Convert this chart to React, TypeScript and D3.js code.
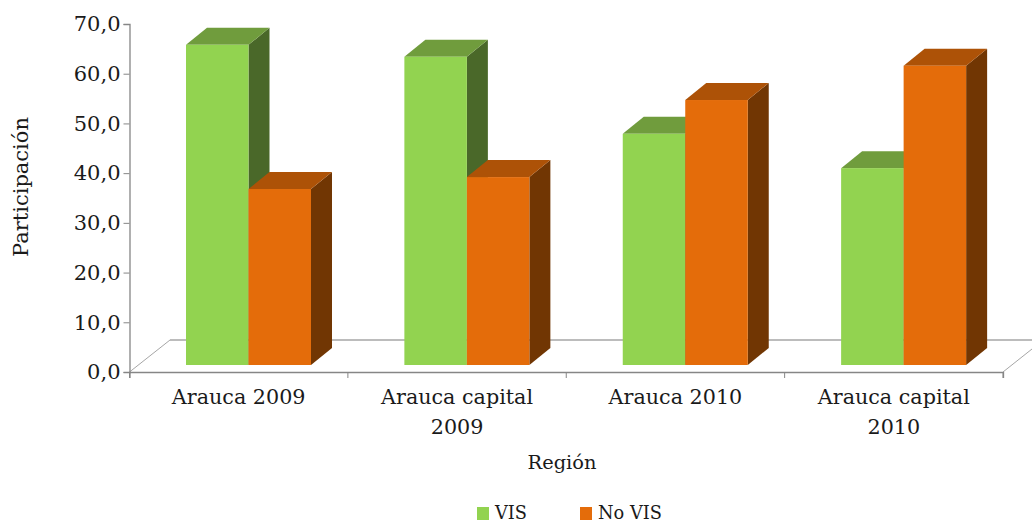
import React, { useEffect, useRef } from "react";
import * as d3 from "d3";

const categories = ["Arauca 2009", "Arauca capital 2009", "Arauca 2010", "Arauca capital 2010"];
const categoryLines = [["Arauca 2009"], ["Arauca capital", "2009"], ["Arauca 2010"], ["Arauca capital", "2010"]];
const seriesNames = ["VIS", "No VIS"];
const visValues = [64.4, 62.0, 46.5, 39.6];
const noVisValues = [35.4, 37.8, 53.3, 60.2];
const yTicks = [0, 10, 20, 30, 40, 50, 60, 70];

const colors = [
  { front: "#92d350", top: "#709c3d", side: "#4a6829" },
  { front: "#e46c0a", top: "#ad5207", side: "#713603" },
];

export default function App() {
  const svgRef = useRef<SVGSVGElement>(null);

  useEffect(() => {
    const w = 1032;
    const h = 520;
    const font = "'DejaVu Serif', serif";
    const axisColor = "#868686";
    const svg = d3.select(svgRef.current)
      .attr("width", w)
      .attr("height", h)
      .style("position", "absolute")
      .style("left", 0)
      .style("top", 0)
      .style("background", "#fff")
      .style("font-family", font);
    svg.selectAll("*").remove();

    // scales
    const left = 129.5;
    const right = 1003;
    const yBase = 372;
    const yTop = 24;
    const xScale = d3.scaleBand<string>().domain(categories).range([left, right]);
    const yScale = d3.scaleLinear().domain([0, 70]).range([yBase, yTop]);
    const barScale = d3.scaleBand<number>().domain([0, 1]).range([56.5, 181.5]);

    // depth of the 3d box and inset of the bars on the floor
    const dx = 21;
    const dy = -17;
    const barLift = yBase - 365;

    // floor
    svg.append("path")
      .attr("d", `M${left},${yBase}L170,340`)
      .attr("fill", "none")
      .attr("stroke", "#a6a6a6");
    svg.append("path")
      .attr("d", "M170,340H1032")
      .attr("fill", "none")
      .attr("stroke", "#bcbcbc")
      .attr("stroke-width", 2);
    svg.append("path")
      .attr("d", `M${right},${yBase}L1032,349`)
      .attr("fill", "none")
      .attr("stroke", "#a6a6a6");

    // axes
    const yAxis = d3.axisLeft(yScale)
      .tickValues(yTicks)
      .tickSize(6)
      .tickFormat((d) => d3.format(".1f")(d as number).replace(".", ","));
    const gy = svg.append("g").attr("transform", `translate(${left},0)`).call(yAxis);
    gy.selectAll("text").attr("x", -9).attr("font-size", 21).attr("font-family", font).attr("fill", "#1a1a1a");

    const xAxis = d3.axisBottom(xScale).tickValues([]).tickSize(6);
    const gx = svg.append("g").attr("transform", `translate(0,${yBase})`).call(xAxis);
    gx.selectAll(".tick").remove();
    gx.selectAll("line.sep")
      .data([...categories.map((c) => xScale(c) as number), right])
      .join("line")
      .attr("class", "sep")
      .attr("x1", (d) => d)
      .attr("x2", (d) => d)
      .attr("y1", 0)
      .attr("y2", 6)
      .attr("stroke", axisColor);
    [gx, gy].forEach((g) => {
      g.selectAll(".domain").attr("stroke", axisColor).attr("stroke-width", 1.3);
      g.selectAll(".tick line").attr("stroke", axisColor);
    });

    // bars
    const bars = svg.append("g");
    categories.forEach((c, i) => {
      [visValues[i], noVisValues[i]].forEach((v, s) => {
        const x0 = (xScale(c) as number) + (barScale(s) as number);
        const x1 = x0 + barScale.bandwidth();
        const y1 = yScale(0) - barLift;
        const y0 = yScale(v) - barLift;
        const g = bars.append("g");
        g.append("path")
          .attr("d", `M${x1},${y0}l${dx},${dy}V${y1 + dy}L${x1},${y1}Z`)
          .attr("fill", colors[s].side);
        g.append("path")
          .attr("d", `M${x0},${y0}l${dx},${dy}H${x1 + dx}L${x1},${y0}Z`)
          .attr("fill", colors[s].top);
        g.append("rect")
          .attr("x", x0)
          .attr("y", y0)
          .attr("width", x1 - x0)
          .attr("height", y1 - y0)
          .attr("fill", colors[s].front);
      });
    });

    // category labels
    categoryLines.forEach((lines, i) => {
      const cx = (xScale(categories[i]) as number) + xScale.bandwidth() / 2;
      lines.forEach((line, j) => {
        svg.append("text")
          .attr("x", cx)
          .attr("y", 404 + j * 30)
          .attr("text-anchor", "middle")
          .attr("font-size", 20.7)
          .attr("fill", "#1a1a1a")
          .text(line);
      });
    });

    // axis titles
    svg.append("text")
      .attr("transform", "translate(28,187) rotate(-90)")
      .attr("text-anchor", "middle")
      .attr("font-size", 21)
      .attr("fill", "#1a1a1a")
      .text("Participación");
    svg.append("text")
      .attr("x", 562)
      .attr("y", 469)
      .attr("text-anchor", "middle")
      .attr("font-size", 19.4)
      .attr("fill", "#1a1a1a")
      .text("Región");

    // legend
    const legendX = [477, 580];
    seriesNames.forEach((name, s) => {
      svg.append("rect")
        .attr("x", legendX[s])
        .attr("y", 507)
        .attr("width", 12)
        .attr("height", 13)
        .attr("fill", colors[s].front);
      svg.append("text")
        .attr("x", legendX[s] + 18)
        .attr("y", 519)
        .attr("font-size", 17.8)
        .attr("fill", "#1a1a1a")
        .text(name);
    });
  }, []);

  return (
    <div>
      <svg ref={svgRef}></svg>
    </div>
  );
}
